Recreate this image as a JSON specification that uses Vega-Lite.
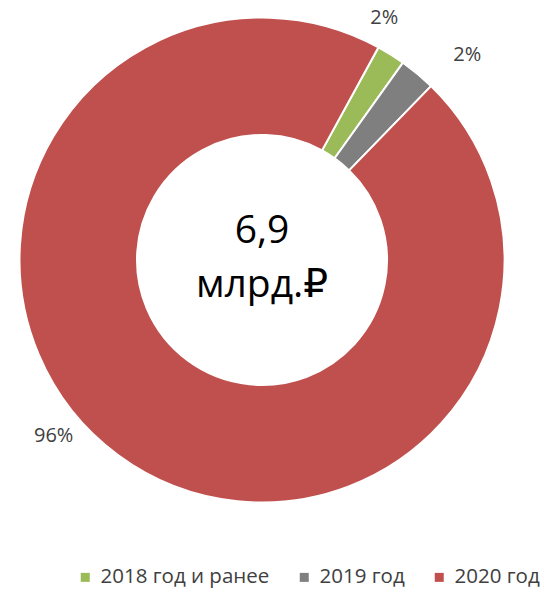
{
  "$schema": "https://vega.github.io/schema/vega-lite/v6.json",
  "width": 524,
  "height": 520,
  "padding": 0,
  "background": "white",
  "config": {"view": {"stroke": null}, "font": "Open Sans, DejaVu Sans"},
  "data": {"values": [
    {"category": "2018 год и ранее", "share": 0.019},
    {"category": "2019 год", "share": 0.024},
    {"category": "2020 год", "share": 0.957}
  ]},
  "layer": [
    {
      "mark": {"type": "arc", "innerRadius": 125, "outerRadius": 242.5, "stroke": "white", "strokeWidth": 2},
      "encoding": {
        "theta": {"field": "share", "type": "quantitative", "stack": true, "scale": {"range": [0.501, 6.7842]}},
        "order": {"field": "category", "sort": "ascending"},
        "color": {
          "field": "category", "type": "nominal",
          "scale": {"domain": ["2018 год и ранее", "2019 год", "2020 год"], "range": ["#9BBB59", "#7F7F7F", "#C0504D"]},
          "legend": {
            "orient": "none", "legendX": 75, "legendY": 567, "direction": "horizontal", "title": null,
            "symbolType": "square", "symbolSize": 81, "symbolStrokeWidth": 0,
            "labelFontSize": 20.5, "labelFont": "Open Sans, DejaVu Sans", "labelColor": "#404040",
            "labelOffset": 5, "columnPadding": 24, "labelLimit": 400, "padding": 0
          }
        }
      }
    },
    {
      "mark": {"type": "text", "radius": 271, "thetaOffset": -0.0925, "fontSize": 20, "color": "#404040", "align": "center", "baseline": "middle"},
      "encoding": {
        "theta": {"field": "share", "type": "quantitative", "stack": true},
        "order": {"field": "category", "sort": "ascending"},
        "detail": {"field": "category"},
        "text": {"condition": {"test": "datum.category === '2018 год и ранее'", "field": "share", "type": "quantitative", "format": ".0%"}, "value": ""}
      }
    },
    {
      "mark": {"type": "text", "radius": 290, "thetaOffset": 0.091, "fontSize": 20, "color": "#404040", "align": "center", "baseline": "middle"},
      "encoding": {
        "theta": {"field": "share", "type": "quantitative", "stack": true},
        "order": {"field": "category", "sort": "ascending"},
        "detail": {"field": "category"},
        "text": {"condition": {"test": "datum.category === '2019 год'", "field": "share", "type": "quantitative", "format": ".0%"}, "value": ""}
      }
    },
    {
      "mark": {"type": "text", "radius": 273, "thetaOffset": 0.232, "fontSize": 20, "color": "#404040", "align": "center", "baseline": "middle"},
      "encoding": {
        "theta": {"field": "share", "type": "quantitative", "stack": true},
        "order": {"field": "category", "sort": "ascending"},
        "detail": {"field": "category"},
        "text": {"condition": {"test": "datum.category === '2020 год'", "field": "share", "type": "quantitative", "format": ".0%"}, "value": ""}
      }
    },
    {
      "data": {"values": [{"label": "6,9\nмлрд.₽"}]},
      "mark": {"type": "text", "fontSize": 39, "color": "black", "lineBreak": "\n", "lineHeight": 54, "align": "center", "baseline": "alphabetic", "x": {"expr": "width/2"}, "y": {"expr": "height/2"}, "dy": -17},
      "encoding": {"text": {"field": "label"}}
    }
  ]
}
